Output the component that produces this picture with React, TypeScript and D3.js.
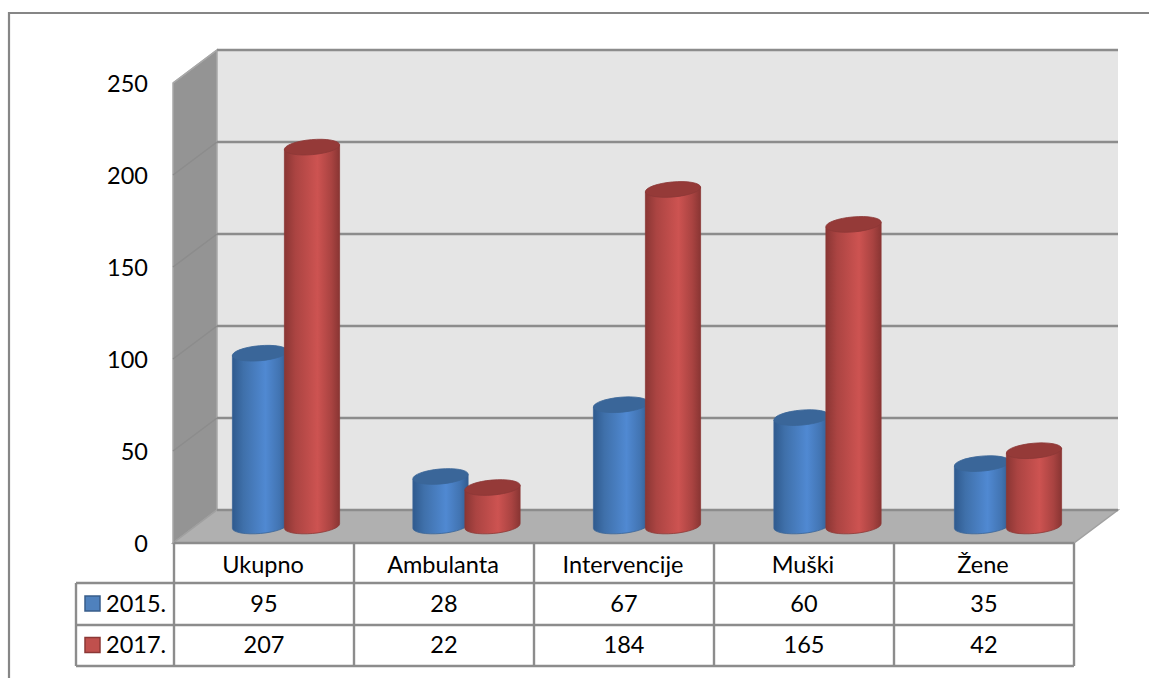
import React from "react";
import * as d3 from "d3";

const categories = ["Ukupno", "Ambulanta", "Intervencije", "Muški", "Žene"];
const series2015 = [95, 28, 67, 60, 35];
const series2017 = [207, 22, 184, 165, 42];
const yTicks = [0, 50, 100, 150, 200, 250];
const seriesNames = ["2015.", "2017."];

const W = 1149, H = 678;
const FONT = "Lato, Carlito, 'Open Sans', sans-serif";
const GRID = "#8c8c8c";
const DX = 44, DY = 33; // wall depth
const BASE_DY = 16; // bars stand mid-depth
const TOP_DY = 18;
const yBack = d3.scaleLinear().domain([0, 250]).range([510, 50]);
const xBackL = 217, xBackR = 1118;
const xCat = d3.scalePoint<string>().domain(categories).range([286, 1008]);
const tableCols = d3.range(0, 6).map((i) => d3.scaleLinear().domain([0, 5]).range([174, 1074])(i));
const rows = [543, 583, 625, 666];
const RX = 27.7, RY = 7.5, TILT = 5 * Math.PI / 180;

function Cyl({ cx, v, grad, top, stroke }: { cx: number; v: number; grad: string; top: string; stroke: string }) {
  const yT = yBack(v) + TOP_DY;
  const yB = yBack(0) + BASE_DY;
  const dx = RX * Math.cos(TILT), dy = RX * Math.sin(TILT);
  const rot = -TILT * 180 / Math.PI;
  const body = `M${cx - dx},${yT + dy} L${cx - dx},${yB + dy} A${RX},${RY} ${rot} 0 0 ${cx + dx},${yB - dy} L${cx + dx},${yT - dy} Z`;
  return (
    <g>
      <path d={body} fill={`url(#${grad})`} stroke={stroke} strokeWidth={0.8} />
      <ellipse cx={cx} cy={yT} rx={RX} ry={RY} fill={top} stroke={stroke} strokeWidth={0.8} transform={`rotate(${rot} ${cx} ${yT})`} />
    </g>
  );
}

const txt = { fontFamily: FONT, fontSize: 23.5, fill: "#000", textAnchor: "middle" as const, dominantBaseline: "central" as const };

export default function App() {
  const rowMid = (i: number) => (rows[i] + rows[i + 1]) / 2 - 1;
  const colMid = (i: number) => (tableCols[i] + tableCols[i + 1]) / 2;
  return (
    <svg width={W} height={H} viewBox={`0 0 ${W} ${H}`} style={{ position: "absolute", left: 0, top: 0, display: "block", background: "#fff" }}>
      <defs>
        <linearGradient id="gb" x1="0" x2="1" y1="0" y2="0">
          <stop offset="0" stopColor="#2f5a8e" />
          <stop offset="0.2" stopColor="#3f70aa" />
          <stop offset="0.6" stopColor="#5089d2" />
          <stop offset="0.85" stopColor="#4274b2" />
          <stop offset="1" stopColor="#325c90" />
        </linearGradient>
        <linearGradient id="gr" x1="0" x2="1" y1="0" y2="0">
          <stop offset="0" stopColor="#8a3634" />
          <stop offset="0.2" stopColor="#ab4442" />
          <stop offset="0.6" stopColor="#cd5351" />
          <stop offset="0.85" stopColor="#a94341" />
          <stop offset="1" stopColor="#893533" />
        </linearGradient>
      </defs>

      {/* outer frame */}
      <path d={`M9,${H} V13 H${W}`} fill="none" stroke="#868686" strokeWidth={2.2} />

      {/* walls and floor */}
      <rect x={xBackL} y={yBack(250)} width={xBackR - xBackL} height={yBack(0) - yBack(250)} fill="#e5e5e5" />
      <polygon points={`${xBackL - DX},${yBack(250) + DY} ${xBackL},${yBack(250)} ${xBackL},${yBack(0)} ${xBackL - DX},${yBack(0) + DY}`} fill="#949494" stroke="#a8a8a8" strokeWidth={1.5} />
      <polygon points={`${xBackL - DX},${yBack(0) + DY} ${xBackL},${yBack(0)} ${xBackR},${yBack(0)} ${xBackR - DX},${yBack(0) + DY}`} fill="#b0b0b0" stroke="#a0a0a0" strokeWidth={1.5} />

      {/* gridlines */}
      {yTicks.map((t) => (
        <g key={t}>
          <line x1={xBackL} x2={xBackR} y1={yBack(t)} y2={yBack(t)} stroke={GRID} strokeWidth={2.4} />
          {t > 0 && <line x1={xBackL - DX} x2={xBackL} y1={yBack(t) + DY} y2={yBack(t)} stroke={t === 250 ? "#a8a8a8" : GRID} strokeWidth={1.5} />}
        </g>
      ))}

      {/* y labels */}
      {yTicks.map((t) => (
        <text key={t} {...txt} x={148} y={yBack(t) + DY} textAnchor="end">{t}</text>
      ))}

      {/* bars */}
      {categories.map((c, i) => (
        <g key={c}>
          <Cyl cx={(xCat(c) as number) - 26} v={series2015[i]} grad="gb" top="#3a6699" stroke="#3a6597" />
          <Cyl cx={(xCat(c) as number) + 26} v={series2017[i]} grad="gr" top="#953a38" stroke="#8c3836" />
        </g>
      ))}

      {/* data table */}
      <g stroke={GRID} strokeWidth={2.4} fill="none">
        <line x1={tableCols[0]} x2={tableCols[5]} y1={rows[0]} y2={rows[0]} />
        {rows.slice(1).map((r) => <line key={r} x1={76} x2={tableCols[5]} y1={r} y2={r} />)}
        {tableCols.map((x) => <line key={x} x1={x} x2={x} y1={rows[0]} y2={rows[3]} />)}
        <line x1={76} x2={76} y1={rows[1]} y2={rows[3]} />
      </g>
      {categories.map((c, i) => <text key={c} {...txt} x={colMid(i) - 1} y={rowMid(0) + 2}>{c}</text>)}
      {series2015.map((v, i) => <text key={i} {...txt} x={colMid(i)} y={rowMid(1)}>{v}</text>)}
      {series2017.map((v, i) => <text key={i} {...txt} x={colMid(i)} y={rowMid(2) - 1}>{v}</text>)}
      {seriesNames.map((s, i) => (
        <g key={s}>
          <rect x={85} y={rowMid(i + 1) - 7} width={15} height={15} fill={i ? "#c0504d" : "#4f81bd"} stroke={i ? "#8c3836" : "#385d8a"} strokeWidth={1.5} />
          <text {...txt} x={106} y={rowMid(i + 1) - i} textAnchor="start">{s}</text>
        </g>
      ))}
    </svg>
  );
}
